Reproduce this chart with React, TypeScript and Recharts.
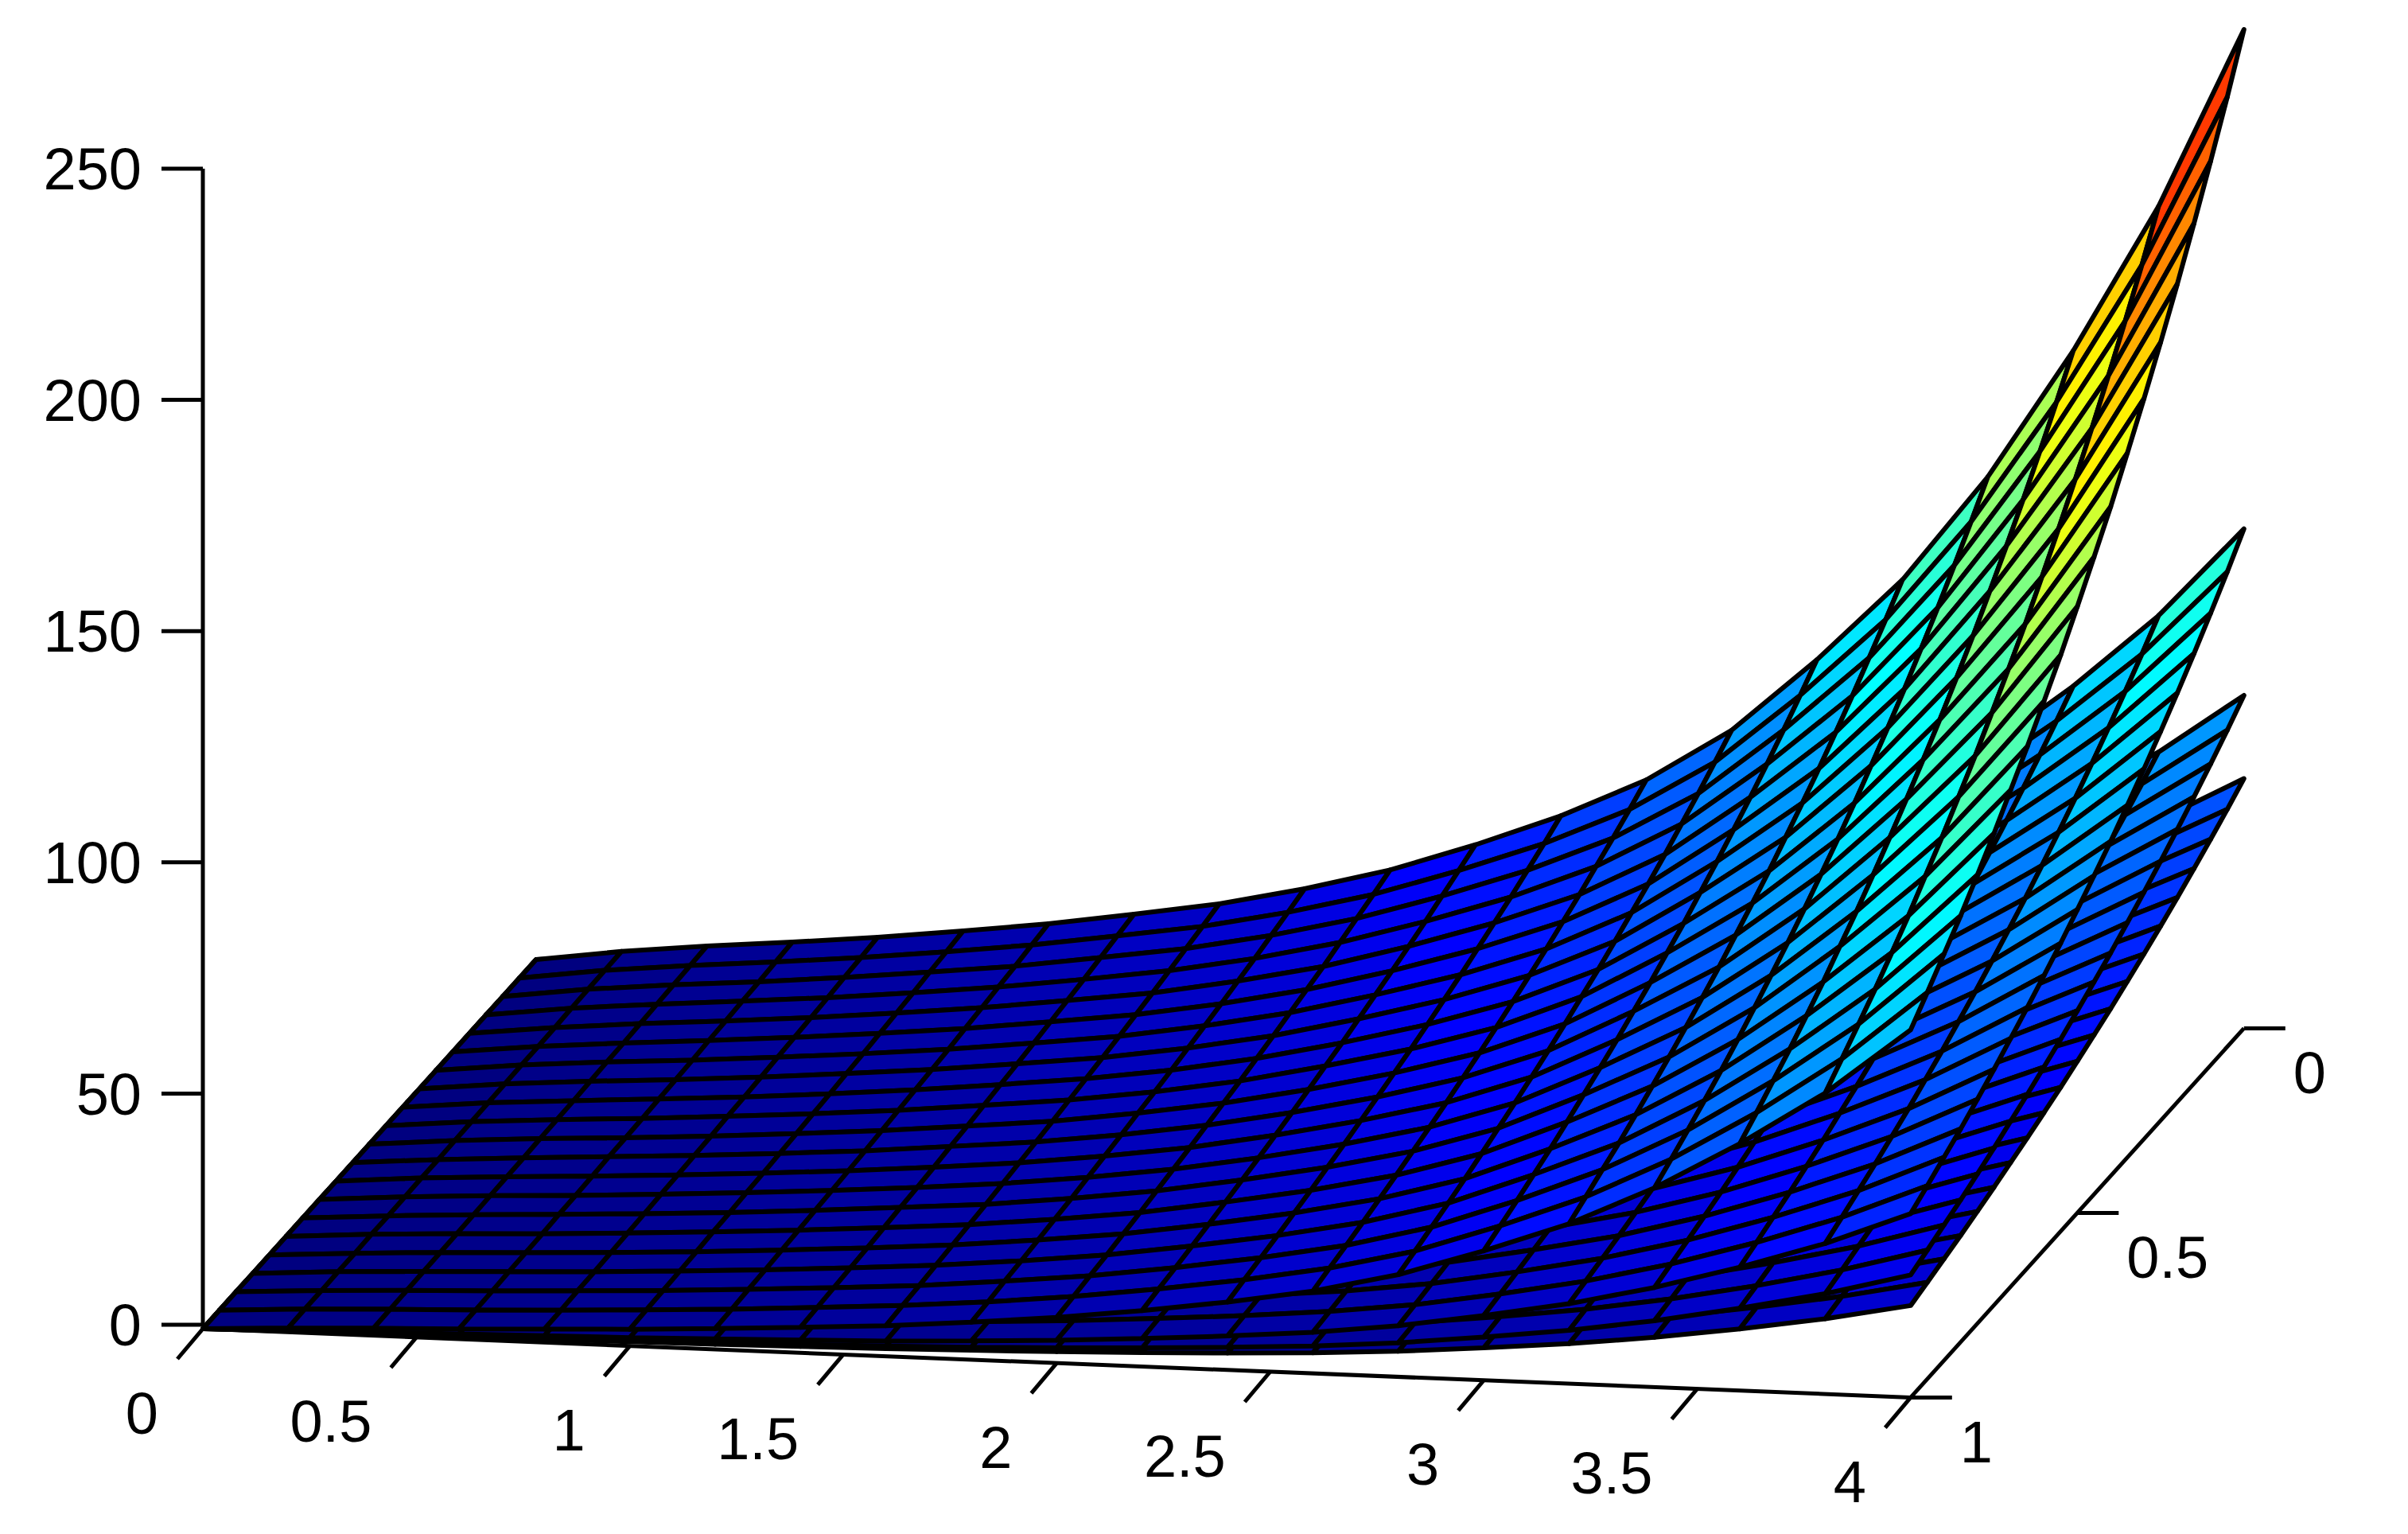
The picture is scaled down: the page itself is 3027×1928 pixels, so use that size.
import React from 'react';
import { ScatterChart, Scatter, XAxis, YAxis } from 'recharts';

const W = 3027, H = 1928;
const PLOT_TOP = 212, PLOT_BOTTOM = 1665, AXIS_X = 255;
const PX_PER_Z = (PLOT_BOTTOM - PLOT_TOP) / 250;

// Grid of the surface
const xValues = [0,0.2,0.4,0.6,0.8,1,1.2,1.4,1.6,1.8,2,2.2,2.4,2.6,2.8,3,3.2,3.4,3.6,3.8,4];
const yValues = [0,0.05,0.1,0.15,0.2,0.25,0.3,0.35,0.4,0.45,0.5,0.55,0.6,0.65,0.7,0.75,0.8,0.85,0.9,0.95,1];

// Height of the tallest sheet, one row per y value
const tallestSheet = [
[0,2.5,4.4,6,7.8,9.9,12.2,15,18,22,26.8,33,40,48.5,60,76,94,117,145,177,216],
[0,2.4,4.2,5.7,7.4,9.4,11.6,14.3,17.1,20.9,25.5,31.4,38,46.1,57.1,72.3,89.4,111.3,137.9,168.3,205.4],
[0,2.3,4,5.4,7.1,9,11,13.6,16.3,19.9,24.3,29.9,36.2,43.9,54.3,68.8,85.1,105.9,131.2,160.2,195.5],
[0,2.2,3.8,5.2,6.7,8.5,10.5,12.9,15.5,18.9,23.1,28.4,34.4,41.8,51.7,65.4,80.9,100.7,124.8,152.4,186],
[0,2,3.6,4.9,6.4,8.1,10,12.3,14.7,18,21.9,27,32.8,39.7,49.1,62.2,77,95.8,118.8,145,176.9],
[0,1.9,3.4,4.7,6.1,7.7,9.5,11.7,14,17.1,20.9,25.7,31.2,37.8,46.7,59.2,73.2,91.1,113,137.9,168.3],
[0,1.9,3.3,4.4,5.8,7.3,9,11.1,13.3,16.3,19.9,24.5,29.6,35.9,44.5,56.3,69.7,86.7,107.4,131.2,160.1],
[0,1.8,3.1,4.2,5.5,7,8.6,10.6,12.7,15.5,18.9,23.3,28.2,34.2,42.3,53.6,66.3,82.5,102.2,124.8,152.3],
[0,1.7,2.9,4,5.2,6.6,8.2,10.1,12.1,14.7,18,22.1,26.8,32.5,40.2,50.9,63,78.4,97.2,118.6,144.7],
[0,1.6,2.8,3.8,5,6.3,7.8,9.6,11.5,14,17.1,21.1,25.5,30.9,38.3,48.5,60,74.6,92.5,112.9,137.8],
[0,1.5,2.7,3.6,4.7,6,7.4,9.1,10.9,13.4,16.3,20,24.3,29.4,36.4,46.1,57.1,71,88,107.4,131.1],
[0,1.4,2.5,3.5,4.5,5.7,7,8.7,10.4,12.7,15.5,19,23.1,28,34.6,43.9,54.2,67.5,83.7,102.1,124.6],
[0,1.4,2.4,3.3,4.3,5.4,6.7,8.2,9.9,12.1,14.7,18.1,22,26.6,32.9,41.7,51.6,64.2,79.6,97.2,118.6],
[0,1.3,2.3,3.1,4.1,5.2,6.4,7.8,9.4,11.5,14,17.2,20.9,25.3,31.3,39.7,49.1,61.1,75.7,92.4,112.8],
[0,1.2,2.2,3,3.9,4.9,6.1,7.5,8.9,10.9,13.3,16.4,19.9,24.1,29.8,37.8,46.7,58.1,72.1,88,107.4],
[0,1.2,2.1,2.8,3.7,4.7,5.8,7.1,8.5,10.4,12.6,15.6,18.9,22.9,28.3,35.9,44.4,55.2,68.4,83.5,102],
[0,1.1,2,2.7,3.5,4.4,5.5,6.7,8.1,9.9,12,14.8,18,21.8,26.9,34.1,42.2,52.5,65.1,79.5,97],
[0,1.1,1.9,2.6,3.3,4.2,5.2,6.4,7.7,9.4,11.4,14.1,17.1,20.7,25.6,32.5,40.1,50,61.9,75.6,92.2],
[0,1,1.8,2.4,3.2,4,5,6.1,7.3,9,10.9,13.4,16.3,19.7,24.4,30.9,38.3,47.6,59,72,87.9],
[0,1,1.7,2.3,3,3.8,4.7,5.8,7,8.5,10.4,12.8,15.5,18.8,23.2,29.4,36.4,45.3,56.1,68.5,83.6],
[0,0.9,1.6,2.2,2.9,3.6,4.5,5.5,6.6,8.1,9.9,12.1,14.7,17.8,22.1,28,34.6,43.1,53.4,65.1,79.5],
];
// Corner height of each sheet at x=4, y=0, painted lowest first
const sheetCornerHeights = [54, 72, 108, 216];
const COLOR_MAX = 216;

const zTicks = [0, 50, 100, 150, 200, 250];
const xTicks = [0, 0.5, 1, 1.5, 2, 2.5, 3, 3.5, 4];
const yTicks = [0, 0.5, 1];

// Oblique view of the box: screen position relative to the plot's left edge
const project = (x: number, y: number, z: number) => ({
  sx: 536.7 * x + 419 * (1 - y),
  sz: (PLOT_BOTTOM - (1670 + 21.6 * x - 464 * (1 - y))) / PX_PER_Z + z,
});

const jet = (t: number) => {
  const v = Math.max(0, Math.min(1, t));
  const c = (a: number) => Math.round(255 * Math.max(0, Math.min(1, a)));
  const r = c(Math.min(4 * v - 1.5, -4 * v + 4.5));
  const g = c(Math.min(4 * v - 0.5, -4 * v + 3.5));
  const b = c(Math.min(4 * v + 0.5, -4 * v + 2.5));
  return `rgb(${r},${g},${b})`;
};

const buildCells = (cornerHeight: number) => {
  const f = cornerHeight / sheetCornerHeights[sheetCornerHeights.length - 1];
  const cells: any[] = [];
  for (let j = 0; j < yValues.length - 1; j++) {
    for (let i = 0; i < xValues.length - 1; i++) {
      const corner = (a: number, b: number) => project(xValues[a], yValues[b], tallestSheet[b][a] * f);
      const p = corner(i, j);
      cells.push({
        sx: p.sx, sz: p.sz,
        corners: [p, corner(i + 1, j), corner(i + 1, j + 1), corner(i, j + 1)],
        color: jet((tallestSheet[j][i] * f) / COLOR_MAX),
      });
    }
  }
  return cells;
};

const CellShape = (props: any) => {
  const { cx, cy, payload } = props;
  const pts = payload.corners
    .map((c: any) => `${cx + c.sx - payload.sx},${cy - (c.sz - payload.sz) * PX_PER_Z}`)
    .join(' ');
  return <polygon points={pts} fill={payload.color} stroke="#000" strokeWidth={6} strokeLinejoin="round" />;
};

const FONT = '"Liberation Sans", Arial, sans-serif';
const FONT_SIZE = 74;
const STROKE = 5;

const XTickShape = (props: any) => {
  const { cx, cy, payload } = props;
  return (
    <g>
      <line x1={cx} y1={cy} x2={cx - 32} y2={cy + 38} stroke="#000" strokeWidth={STROKE} />
      <text x={cx - 56} y={cy + 105} dy="0.36em" textAnchor="end" fontFamily={FONT} fontSize={FONT_SIZE} fill="#000">{payload.label}</text>
    </g>
  );
};
const YTickShape = (props: any) => {
  const { cx, cy, payload } = props;
  return (
    <g>
      <line x1={cx} y1={cy} x2={cx + 52} y2={cy} stroke="#000" strokeWidth={STROKE} />
      <text x={cx + 62} y={cy + 55} dy="0.36em" textAnchor="start" fontFamily={FONT} fontSize={FONT_SIZE} fill="#000">{payload.label}</text>
    </g>
  );
};

const zAxisLine = [{ sx: 0, sz: 0 }, { sx: 0, sz: 250 }];
const xAxisLine = [project(0, 1, 0), project(4, 1, 0)];
const yAxisLine = [project(4, 1, 0), project(4, 0, 0)];
const xTickData = xTicks.map((t) => ({ ...project(t, 1, 0), label: String(t) }));
const yTickData = yTicks.map((t) => ({ ...project(4, t, 0), label: String(t) }));
const NoDot = () => <g />;

const zAtTop = PLOT_BOTTOM / PX_PER_Z;
const zAtBottom = -(H - PLOT_BOTTOM) / PX_PER_Z;

export default function App() {
  return (
    <div style={{ position: 'absolute', left: 0, top: 0, width: W, height: H, background: '#fff' }}>
      <ScatterChart width={W} height={H} margin={{ top: 0, right: 0, bottom: 0, left: 0 }}>
        <XAxis type="number" dataKey="sx" domain={[0, W - AXIS_X]} hide />
        <YAxis
          type="number" dataKey="sz" domain={[zAtBottom, zAtTop]} ticks={zTicks} interval={0} width={AXIS_X}
          tickSize={52} tickMargin={25}
          axisLine={false}
          tickLine={{ stroke: '#000', strokeWidth: STROKE }}
          tick={{ fill: '#000', fontFamily: FONT, fontSize: FONT_SIZE }}
        />
        <Scatter data={zAxisLine} line={{ stroke: '#000', strokeWidth: STROKE }} shape={NoDot} isAnimationActive={false} />
        <Scatter data={xAxisLine} line={{ stroke: '#000', strokeWidth: STROKE }} shape={NoDot} isAnimationActive={false} />
        <Scatter data={yAxisLine} line={{ stroke: '#000', strokeWidth: STROKE }} shape={NoDot} isAnimationActive={false} />
        <Scatter data={xTickData} shape={XTickShape} isAnimationActive={false} />
        <Scatter data={yTickData} shape={YTickShape} isAnimationActive={false} />
        {sheetCornerHeights.map((h) => (
          <Scatter key={h} data={buildCells(h)} shape={CellShape} isAnimationActive={false} />
        ))}
      </ScatterChart>
    </div>
  );
}
